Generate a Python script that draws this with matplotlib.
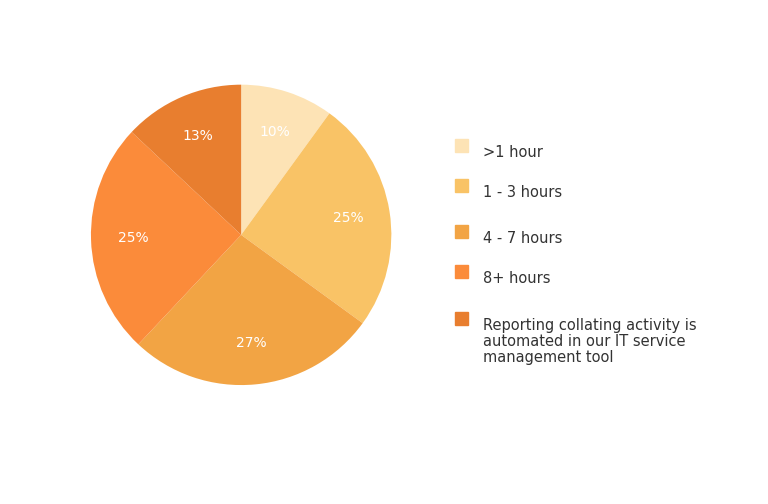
import matplotlib
matplotlib.use("Agg")
import matplotlib.pyplot as plt
from matplotlib.patches import Rectangle

labels = [">1 hour", "1 - 3 hours", "4 - 7 hours", "8+ hours",
          "Reporting collating activity is\nautomated in our IT service\nmanagement tool"]
values = [10, 25, 27, 25, 13]
colors = ["#FDE3B5", "#F9C366", "#F2A444", "#FB8B3A", "#E87E2F"]

fig = plt.figure(figsize=(7.68, 5.04), dpi=100)
ax = fig.add_axes([0.314 - 0.196, 0.534 - 0.298, 0.392, 0.596])
wedges, texts = ax.pie(values, colors=colors, startangle=90, counterclock=False,
                       wedgeprops=dict(linewidth=0))
import numpy as np
ang = 90.0
for w, v in zip(wedges, values):
    mid = np.deg2rad(ang - v * 3.6 / 2)
    ang -= v * 3.6
    ax.text(0.72 * np.cos(mid), 0.72 * np.sin(mid), f"{v}%", color="white",
            ha="center", va="center", fontsize=10)
ax.set_aspect("equal")
ax.set_xlim(-1, 1); ax.set_ylim(-1, 1)

ys = [145, 185, 231, 271, 318]
for lab, c, y in zip(labels, colors, ys):
    fig.patches.append(Rectangle((455 / 768, 1 - (y + 7) / 504), 13 / 768, 13 / 504,
                                 transform=fig.transFigure, color=c))
    fig.text(483 / 768, 1 - y / 504, lab, ha="left", va="top", fontsize=10.5,
             color="#333333", linespacing=1.1)
fig.savefig("out.png", dpi=100)
